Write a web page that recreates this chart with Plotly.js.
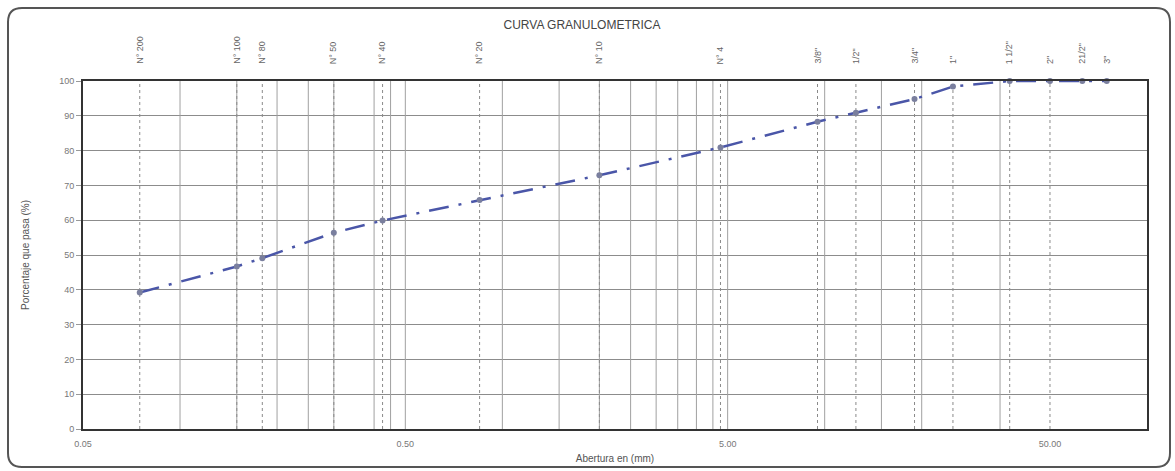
<!DOCTYPE html>
<html>
<head>
<meta charset="utf-8">
<script src="https://cdn.plot.ly/plotly-3.0.1.min.js"></script>
<style>
  html, body { margin: 0; padding: 0; background: #fff; }
  #chart { width: 1175px; height: 471px; }
</style>
</head>
<body>
<div id="chart"></div>
<script>
// ---- data ----
const sieveLabels = ['N° 200','N° 100','N° 80','N° 50','N° 40','N° 20','N° 10','N° 4','3/8"','1/2"','3/4"','1"','1 1/2"','2"','21/2"','3"'];
const sieveSizes  = [0.075, 0.15, 0.18, 0.30, 0.425, 0.85, 2.0, 4.75, 9.5, 12.5, 19.0, 25.0, 37.5, 50.0, 63.0, 75.0];
const passing     = [39.2, 46.7, 49.1, 56.4, 59.9, 65.8, 72.9, 80.9, 88.3, 90.9, 94.8, 98.4, 100, 100, 100, 100];
const dashedSieves = sieveSizes.slice(0, 14);
const gridX = [0.1, 0.15, 0.2, 0.25, 0.3, 0.4, 0.45, 0.5, 1, 1.5, 2, 2.5, 3, 3.5, 4, 4.5, 5, 10, 15, 20, 35];
const xTickVals = [0.05, 0.5, 5, 50];
const xTickText = ['0.05', '0.50', '5.00', '50.00'];

function vlines(xs) {
  const x = [], y = [];
  xs.forEach(v => { x.push(v, v, null); y.push(0, 100, null); });
  return {x, y};
}

const g = vlines(gridX);
const d = vlines(dashedSieves);

const traces = [
  { x: g.x, y: g.y, mode: 'lines', line: {color: '#a0a0a0', width: 1}, hoverinfo: 'skip', showlegend: false },
  { x: d.x, y: d.y, mode: 'lines', line: {color: '#8a8a8a', width: 1, dash: '3px,3px'}, hoverinfo: 'skip', showlegend: false },
  { x: sieveSizes, y: passing, mode: 'lines+markers', cliponaxis: false,
    line: {color: '#4a56a8', width: 2.5, dash: '20px,10px,3px,10px'},
    marker: {color: '#7a7f9e', size: 6, symbol: 'circle'},
    showlegend: false }
];

const L = 83, R = 28, T = 81, B = 42;
const PW = 1175 - L - R, PH = 471 - T - B;
const px = v => (v - L) / PW;
const py = v => (471 - B - v) / PH;
const bl = px(8), br = px(1170), bt = py(8), bb = py(467);
const rx = 14 / PW, ry = 14 / PH;
const borderPath = `M ${bl + rx} ${bt} L ${br - rx} ${bt} Q ${br} ${bt} ${br} ${bt - ry} L ${br} ${bb + ry} Q ${br} ${bb} ${br - rx} ${bb} L ${bl + rx} ${bb} Q ${bl} ${bb} ${bl} ${bb + ry} L ${bl} ${bt - ry} Q ${bl} ${bt} ${bl + rx} ${bt} Z`;

const annotations = sieveLabels.map((t, i) => ({
  text: t, x: Math.log10(sieveSizes[i]), xref: 'x', y: py(66), yref: 'paper',
  xanchor: 'center', yanchor: 'bottom', textangle: -90, showarrow: false,
  font: {family: 'Liberation Sans, Arial, sans-serif', size: 9, color: '#666'}
}));

const layout = {
  width: 1175, height: 471,
  margin: {l: L, r: R, t: T, b: B},
  paper_bgcolor: '#fff', plot_bgcolor: '#fff',
  font: {family: 'Liberation Sans, Arial, sans-serif', color: '#666'},
  title: {text: 'CURVA GRANULOMETRICA', x: px(582), xref: 'paper', xanchor: 'center',
          y: 1 - 25/471, yref: 'container', yanchor: 'middle',
          font: {size: 12, color: '#444'}},
  xaxis: {type: 'log', range: [Math.log10(0.05), Math.log10(100)],
          tickvals: xTickVals, ticktext: xTickText, showgrid: false, zeroline: false,
          showline: true, linecolor: '#333', linewidth: 2, mirror: true,
          ticks: 'outside', ticklen: 5, tickcolor: 'rgba(0,0,0,0)', tickfont: {size: 9, color: '#777'},
          title: {text: 'Abertura en (mm)', font: {size: 10, color: '#555'}, standoff: 7}},
  yaxis: {range: [0, 100], dtick: 10, showgrid: true, gridcolor: '#8c8c8c', gridwidth: 1,
          zeroline: false, showline: true, linecolor: '#333', linewidth: 2, mirror: true,
          ticks: 'outside', ticklen: 5, tickcolor: '#999', tickfont: {size: 9, color: '#777'},
          title: {text: 'Porcentaje que pasa (%)', font: {size: 10, color: '#555'}, standoff: 28}},
  shapes: [{type: 'path', xref: 'paper', yref: 'paper', path: borderPath,
            line: {color: '#555', width: 2}, fillcolor: 'rgba(0,0,0,0)', layer: 'above'}],
  annotations: annotations
};

Plotly.newPlot('chart', traces, layout, {displayModeBar: false, staticPlot: true});
</script>
</body>
</html>
